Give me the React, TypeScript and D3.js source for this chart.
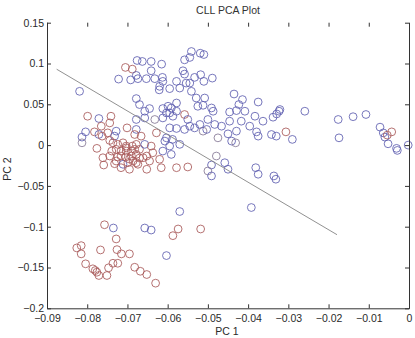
import React, { useEffect, useRef } from 'react';
import * as d3 from 'd3';

// PC 1 / PC 2 scores per sample, and class (b = blue, r = red, m = mixed)
const pc1 = [
  -0.0541, -0.0519, -0.0510, -0.0558, -0.0545, -0.0676, -0.0663, -0.0641, -0.0615, -0.0705,
  -0.0688, -0.0641, -0.0562, -0.0558, -0.0678, -0.0722, -0.0692, -0.0674, -0.0653, -0.0632,
  -0.0613, -0.0612, -0.0620, -0.0621, -0.0595, -0.0578, -0.0554, -0.0545, -0.0533, -0.0518,
  -0.0510, -0.0489, -0.0570, -0.0541, -0.0529, -0.0508, -0.0525, -0.0512, -0.0491, -0.0487,
  -0.0435, -0.0414, -0.0423, -0.0429, -0.0446, -0.0408, -0.0375, -0.0678, -0.0670, -0.0645,
  -0.0612, -0.0591, -0.0603, -0.0578, -0.0578, -0.0595, -0.0558, -0.0550, -0.0500, -0.0483,
  -0.0466, -0.0446, -0.0417, -0.0396, -0.0383, -0.0363, -0.0338, -0.0323, -0.0578, -0.0558,
  -0.0533, -0.0512, -0.0475, -0.0450, -0.0429, -0.0441, -0.0431, -0.0379, -0.0342, -0.0330,
  -0.0306, -0.0290, -0.0375, -0.0321, -0.0329, -0.0259, -0.0176, -0.0139, -0.0107, -0.0174,
  -0.0072, -0.0064, -0.0060, -0.0054, -0.0043, -0.0052, -0.0031, -0.0029, -0.0002, -0.0479,
  -0.0491, -0.0458, -0.0450, -0.0500, -0.0491, -0.0381, -0.0375, -0.0336, -0.0331, -0.0570,
  -0.0392, -0.0657, -0.0641, -0.0574, -0.0518, -0.0587, -0.0603, -0.0682, -0.0668, -0.0652,
  -0.0630, -0.0695, -0.0757, -0.0735, -0.0728, -0.0815, -0.0826, -0.0815, -0.0767, -0.0726,
  -0.0715, -0.0804, -0.0736, -0.0724, -0.0786, -0.0780, -0.0776, -0.0771, -0.0751, -0.0747,
  -0.0819, -0.0799, -0.0771, -0.0741, -0.0744, -0.0765, -0.0782, -0.0804, -0.0813, -0.0813,
  -0.0771, -0.0749, -0.0728, -0.0732, -0.0744, -0.0776, -0.0724, -0.0711, -0.0703, -0.0690,
  -0.0678, -0.0761, -0.0744, -0.0728, -0.0711, -0.0699, -0.0759, -0.0732, -0.0690, -0.0701,
  -0.0678, -0.0678, -0.0763, -0.0736, -0.0728, -0.0703, -0.0682, -0.0670, -0.0657, -0.0641,
  -0.0637, -0.0652, -0.0661, -0.0678, -0.0716, -0.0716, -0.0695, -0.0674, -0.0652, -0.0616,
  -0.0620, -0.0612, -0.0595, -0.0591, -0.0607, -0.0588, -0.0682, -0.0666, -0.0678, -0.0645,
  -0.0578, -0.0550, -0.0686, -0.0628, -0.0603, -0.0570, -0.0632, -0.0612, -0.0587, -0.0657,
  -0.0595, -0.0545, -0.0520, -0.0503, -0.0657, -0.0599, -0.0716, -0.0703, -0.0695, -0.0724,
  -0.0688, -0.0704, -0.0739, -0.0670,
];
const pc2 = [
  0.1147, 0.1126, 0.1110, 0.1045, 0.1074, 0.1037, 0.1025, 0.1025, 0.0992, 0.0952,
  0.0931, 0.0911, 0.0911, 0.0870, 0.0854, 0.0809, 0.0799, 0.0814, 0.0814, 0.0814,
  0.0830, 0.0781, 0.0720, 0.0677, 0.0692, 0.0781, 0.0760, 0.0760, 0.0830, 0.0863,
  0.0781, 0.0821, 0.0699, 0.0659, 0.0577, 0.0577, 0.0476, 0.0488, 0.0455, 0.0415,
  0.0626, 0.0558, 0.0497, 0.0423, 0.0406, 0.0415, 0.0528, 0.0570, 0.0497, 0.0448,
  0.0448, 0.0455, 0.0394, 0.0415, 0.0516, 0.0394, 0.0375, 0.0314, 0.0314, 0.0253,
  0.0232, 0.0293, 0.0293, 0.0232, 0.0354, 0.0293, 0.0342, 0.0415, 0.0204, 0.0192,
  0.0211, 0.0171, 0.0089, 0.0138, 0.0171, 0.0049, 0.0028, 0.0162, 0.0130, 0.0110,
  0.0162, 0.0070, 0.0110, 0.0436, 0.0382, 0.0415, 0.0314, 0.0348, 0.0375, 0.0089,
  0.0220, 0.0150, 0.0098, 0.0122, 0.0162, 0.0016, -0.0040, -0.0065, 0.0000, -0.0134,
  -0.0244, -0.0216, -0.0296, -0.0317, -0.0378, -0.0277, -0.0357, -0.0378, -0.0418, -0.0814,
  -0.0765, -0.1016, -0.1041, -0.1028, -0.1028, -0.1110, -0.1354, -0.1497, -0.1546, -0.1586,
  -0.1692, -0.1333, -0.0976, -0.1016, -0.1150, -0.1232, -0.1260, -0.1333, -0.1285, -0.1281,
  -0.1333, -0.1455, -0.1448, -0.1448, -0.1516, -0.1537, -0.1558, -0.1598, -0.1598, -0.1504,
  0.0659, 0.0354, 0.0326, 0.0354, 0.0272, 0.0232, 0.0162, 0.0162, 0.0098, 0.0028,
  0.0130, 0.0150, 0.0171, 0.0110, 0.0057, -0.0040, 0.0009, 0.0028, -0.0033, -0.0073,
  0.0009, -0.0155, -0.0134, -0.0195, -0.0235, -0.0216, -0.0244, -0.0228, -0.0134, 0.0211,
  0.0192, 0.0314, 0.0110, 0.0028, -0.0052, -0.0073, -0.0052, -0.0052, 0.0009, -0.0012,
  -0.0094, -0.0134, -0.0155, -0.0216, -0.0134, -0.0277, -0.0296, -0.0235, -0.0296, -0.0277,
  -0.0174, -0.0073, -0.0012, -0.0114, 0.0049, 0.0070, 0.0130, 0.0110, -0.0114, -0.0195,
  -0.0277, -0.0268, -0.0195, 0.0150, 0.0089, 0.0009, 0.0314, 0.0333, 0.0354, 0.0333,
  0.0211, 0.0232, 0.0253, 0.0192, 0.0415, 0.0476, -0.0073, -0.0012, -0.0171, -0.0146,
  -0.0012, -0.0146, -0.0073, -0.0159,
];
const group = (
  'bbbbbbbbbr' + 'rbbbbbbbbb' + 'bbbbbbbbbb' + 'bbbbbbbbbb' +
  'bbbbbbbbbb' + 'bbbbbbrbbb' + 'bbbbbbbbbb' + 'bmmbbbmbbb' +
  'rbbbbbbbbb' + 'bbbrrbbbbm' + 'bbbmbbbbbb' + 'bbbrrrbrrr' +
  'rrrbrrrrrr' + 'rrrrrrrrrr' + 'brbrrrrbbm' + 'brbbrrrrrr' +
  'rrrrbrrrrr' + 'bbrrrrrrbr' + 'rrrrrrrrrr' + 'rbbbbbrrrr' +
  'rrrrbbmbbb' + 'bbbbbbrrrr' + 'rrrr'
).split('');

const boundaryX = [-0.0876, -0.0179];
const boundaryY = [0.093, -0.1098];

const xTicks = [-0.09, -0.08, -0.07, -0.06, -0.05, -0.04, -0.03, -0.02, -0.01, 0];
const xTickLabels = ['−0.09', '−0.08', '−0.07', '−0.06', '−0.05', '−0.04', '−0.03', '−0.02', '−0.01', '0'];
const yTicks = [-0.2, -0.15, -0.1, -0.05, 0, 0.05, 0.1, 0.15];
const yTickLabels = ['−0.2', '−0.15', '−0.1', '−0.05', '0', '0.05', '0.1', '0.15'];

const FONT = "'Liberation Sans', Arial, sans-serif";

export default function App() {
  const svgRef = useRef<SVGSVGElement>(null);

  useEffect(() => {
    const svg = d3.select(svgRef.current);
    svg.selectAll('*').remove();

    const left = 47, right = 409, top = 22.7, bottom = 308.3;
    const x = d3.scaleLinear().domain([-0.09, 0]).range([left, right]);
    const y = d3.scaleLinear().domain([-0.2, 0.15]).range([bottom, top]);
    const color = d3.scaleOrdinal<string, string>()
      .domain(['b', 'm', 'r'])
      .range(['#5f5fb0', '#857896', '#a85858']);

    const pts = pc1.map((v, i) => ({ x: v, y: pc2[i], g: group[i] || 'b' }));

    svg.append('g')
      .selectAll('circle')
      .data(pts)
      .enter()
      .append('circle')
      .attr('cx', d => x(d.x))
      .attr('cy', d => y(d.y))
      .attr('r', 3.9)
      .attr('fill', 'none')
      .attr('stroke', d => color(d.g))
      .attr('stroke-width', 0.85);

    svg.append('line')
      .attr('x1', x(boundaryX[0]))
      .attr('y1', y(boundaryY[0]))
      .attr('x2', x(boundaryX[1]))
      .attr('y2', y(boundaryY[1]))
      .attr('stroke', '#858585')
      .attr('stroke-width', 0.9);

    const styleAxis = (g: any) => {
      g.selectAll('path, line').attr('stroke', '#333');
      g.selectAll('text').style('font-family', FONT).style('font-size', '10.5px').attr('fill', '#2a2a2a');
    };

    svg.append('g')
      .attr('transform', `translate(0,${bottom})`)
      .call(d3.axisBottom(x).tickValues(xTicks).tickSizeInner(-4).tickSizeOuter(0).tickPadding(6)
        .tickFormat((d, i) => xTickLabels[i]))
      .call(styleAxis);

    svg.append('g')
      .attr('transform', `translate(${left},0)`)
      .call(d3.axisLeft(y).tickValues(yTicks).tickSizeInner(-4).tickSizeOuter(0).tickPadding(3)
        .tickFormat((d, i) => yTickLabels[i]))
      .call(styleAxis);

    svg.append('g')
      .attr('transform', `translate(${right},0)`)
      .call(d3.axisRight(y).tickValues(yTicks).tickSizeInner(-4).tickSizeOuter(0).tickFormat(() => ''))
      .call(styleAxis);

    const topAxis = svg.append('g')
      .attr('transform', `translate(0,${top})`)
      .call(d3.axisTop(x).tickValues(xTicks).tickSizeInner(-4).tickSizeOuter(0).tickFormat(() => ''))
      .call(styleAxis);
    topAxis.select('.domain').remove();

    svg.append('text')
      .attr('x', 228)
      .attr('y', 14)
      .attr('text-anchor', 'middle')
      .style('font-family', FONT)
      .style('font-size', '10.5px')
      .attr('fill', '#333')
      .text('CLL PCA Plot');

    svg.append('text')
      .attr('x', 227)
      .attr('y', 335)
      .attr('text-anchor', 'middle')
      .style('font-family', FONT)
      .style('font-size', '10.5px')
      .attr('fill', '#2a2a2a')
      .text('PC 1');

    svg.append('text')
      .attr('transform', 'translate(11,169) rotate(-90)')
      .attr('text-anchor', 'middle')
      .style('font-family', FONT)
      .style('font-size', '10.5px')
      .attr('fill', '#2a2a2a')
      .text('PC 2');
  }, []);

  return (
    <svg
      ref={svgRef}
      width={415}
      height={338}
      style={{ position: 'absolute', left: 0, top: 0, background: '#fff' }}
    />
  );
}
